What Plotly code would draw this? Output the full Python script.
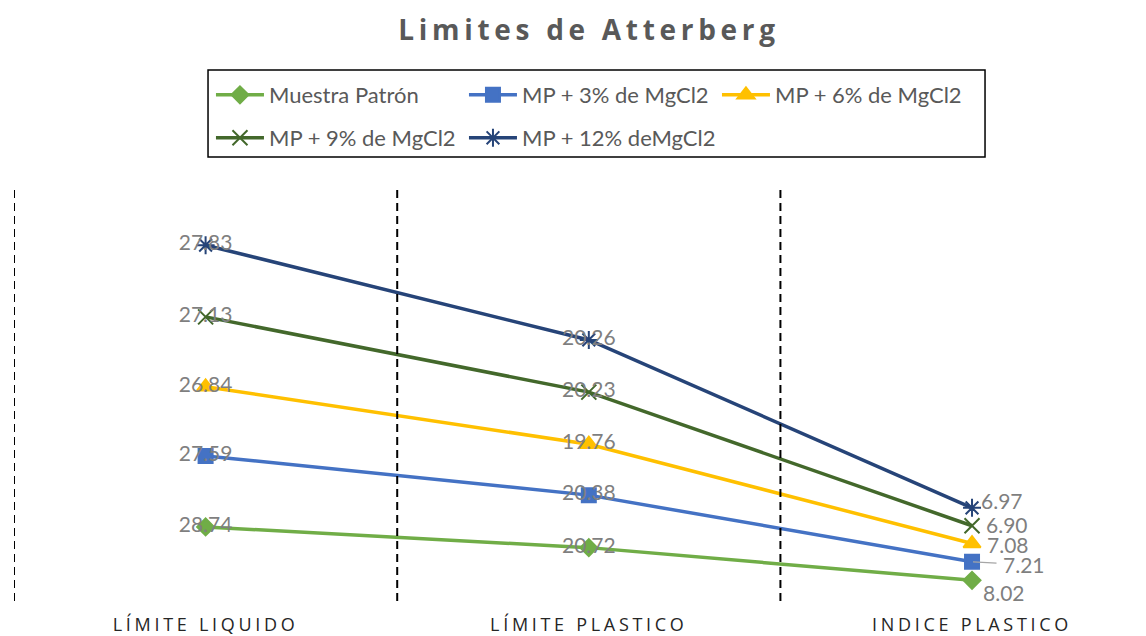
import numpy as np
import plotly.graph_objects as go

# Atterberg limits per sample (stacked line chart)
categories = ["LÍMITE LIQUIDO", "LÍMITE PLASTICO", "INDICE PLASTICO"]
series_names = [
    "Muestra Patrón",
    "MP + 3% de MgCl2",
    "MP + 6% de MgCl2",
    "MP + 9% de MgCl2",
    "MP + 12% deMgCl2",
]
muestra_patron = [28.74, 20.72, 8.02]
mp_3 = [27.59, 20.38, 7.21]
mp_6 = [26.84, 19.76, 7.08]
mp_9 = [27.13, 20.23, 6.90]
mp_12 = [27.83, 20.26, 6.97]

series_values = [muestra_patron, mp_3, mp_6, mp_9, mp_12]
colors = ["#70AD47", "#4472C4", "#FFC000", "#43682B", "#264478"]
symbols = ["diamond", "square", "triangle-up", "x-thin-open", "asterisk-open"]
marker_sizes = [13, 14, 15, 15, 15]
legends = ["legend", "legend", "legend", "legend2", "legend2"]

label_color = "#7F7F7F"
label_font = dict(family="Lato", size=21, color=label_color)

fig = go.Figure()
for name, vals, col, sym, ms, lg in zip(series_names, series_values, colors,
                                        symbols, marker_sizes, legends):
    txt = [f"{v:.2f}" for v in vals[:2]] + [""]
    fig.add_trace(go.Scatter(
        x=categories, y=vals, name=name,
        stackgroup="one", fill="none",
        mode="lines+markers+text",
        line=dict(color=col, width=3.5),
        marker=dict(symbol=sym, size=ms, color=col,
                    line=dict(color=col, width=2)),
        text=txt, textposition="middle center", textfont=label_font,
        hoverinfo="skip", legend=lg,
    ))

# cumulative heights for the last-category labels
cum = np.cumsum(np.array(series_values), axis=0)
ip_shift = [(9, -12), (0, 0), (13, -1), (12, 1), (7, 7)]
annotations = []
for i, vals in enumerate(series_values):
    xs, ys = ip_shift[i]
    if i == 1:
        annotations.append(dict(
            x=categories[2], y=cum[i][2], xref="x", yref="y",
            text=f"{vals[2]:.2f}", font=label_font,
            showarrow=True, arrowhead=0, arrowwidth=1.2, arrowcolor="#A6A6A6",
            ax=52, ay=3, borderpad=6, standoff=1,
        ))
    else:
        annotations.append(dict(
            x=categories[2], y=cum[i][2], xref="x", yref="y",
            text=f"{vals[2]:.2f}", font=label_font, showarrow=False,
            xanchor="left", yanchor="middle", xshift=xs, yshift=ys,
        ))

shapes = []
for xb in [-0.5, 0.5, 1.5]:
    shapes.append(dict(type="line", xref="x", yref="paper", x0=xb, x1=xb,
                       y0=0, y1=1, line=dict(color="black", width=2,
                                             dash="8px,5px")))
# legend frame
shapes.append(dict(type="rect", xref="paper", yref="paper",
                   x0=0.1714, x1=0.8578, y0=1.0673, y1=1.2764,
                   line=dict(color="black", width=1.5), fillcolor="rgba(0,0,0,0)"))

legend_common = dict(orientation="h", xanchor="left", yanchor="middle",
                     entrywidth=190, entrywidthmode="pixels", itemwidth=48,
                     bgcolor="rgba(0,0,0,0)", borderwidth=0,
                     font=dict(family="Lato", size=22, color="#595959"))

fig.update_layout(
    width=1146, height=636,
    margin=dict(l=14, r=0, t=185, b=35, autoexpand=False),
    paper_bgcolor="white", plot_bgcolor="white",
    title=dict(text="<b>Limites de Atterberg</b>",
               font=dict(family="Open Sans", size=28, color="#595959"),
               x=589 / 1146, xanchor="center", y=1 - 30 / 636, yanchor="middle"),
    xaxis=dict(range=[-0.5, 2.454], showgrid=False, zeroline=False,
               showline=False, ticks="", ticklabelstandoff=11, automargin=False,
               tickfont=dict(family="Open Sans", size=18, color="#262626")),
    yaxis=dict(range=[0, 161.5], visible=False, automargin=False),
    legend=dict(x=0.174, y=1.2163, **legend_common),
    legend2=dict(x=0.174, y=1.113, **legend_common),
    shapes=shapes, annotations=annotations,
    showlegend=True,
)

# spaced lettering for the title and category labels
spacing_js = """
var gd = document.getElementById('{plot_id}');
function spaceText() {
  gd.querySelectorAll('.gtitle').forEach(function (t) { t.style.letterSpacing = '4.7px'; });
  gd.querySelectorAll('.xtick text').forEach(function (t) { t.style.letterSpacing = '3.7px'; });
}
spaceText();
gd.on('plotly_afterplot', spaceText);
"""

fig.write_html("out.html", post_script=spacing_js)
